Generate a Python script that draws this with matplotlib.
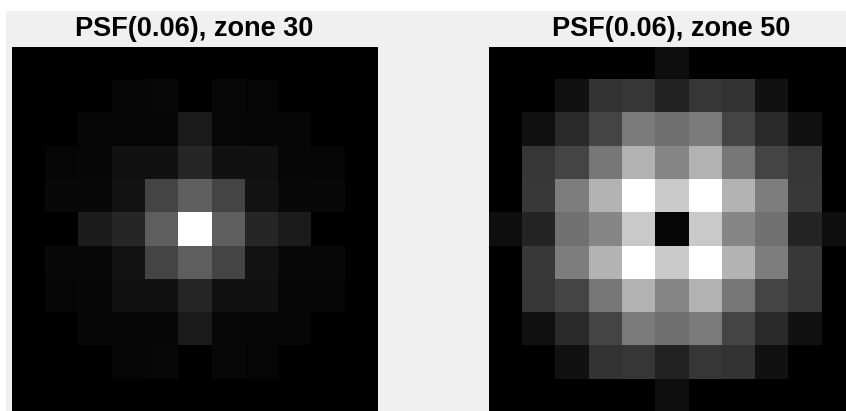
import numpy as np
import matplotlib
matplotlib.use("Agg")
import matplotlib.pyplot as plt
from matplotlib.patches import Rectangle

plt.rcParams["font.family"] = ["Liberation Sans", "DejaVu Sans"]

# gray levels (0-255) of the two 11x11 PSF patches, upper half incl. centre row
zone30_top = [
    [0, 0, 0, 0, 0, 0, 0, 0, 0, 0, 0],
    [0, 0, 0, 5, 7, 0, 7, 5, 0, 0, 0],
    [0, 0, 6, 6, 6, 26, 7, 6, 6, 0, 0],
    [0, 5, 6, 17, 17, 38, 17, 17, 6, 5, 0],
    [0, 8, 8, 18, 68, 94, 68, 18, 8, 8, 0],
    [0, 0, 27, 38, 94, 255, 94, 38, 27, 0, 0],
]
zone50_top = [
    [0, 0, 0, 0, 0, 15, 0, 0, 0, 0, 0],
    [0, 0, 17, 51, 54, 34, 54, 51, 17, 0, 0],
    [0, 17, 42, 68, 123, 110, 123, 68, 42, 17, 0],
    [0, 54, 68, 119, 178, 133, 178, 119, 68, 54, 0],
    [0, 56, 125, 179, 255, 202, 255, 179, 125, 56, 0],
    [15, 36, 112, 134, 201, 5, 201, 134, 112, 36, 15],
]
titles = ["PSF(0.06), zone 30", "PSF(0.06), zone 50"]


def full_psf(top):
    top = np.array(top, dtype=float)
    return np.vstack([top, top[-2::-1]])


W, H = 846, 411
fig = plt.figure(figsize=(W / 100, H / 100), dpi=100, facecolor="white")
fig.patches.append(Rectangle((6 / W, 0), 1, (H - 11) / H, transform=fig.transFigure,
                             facecolor="#f0f0f0", edgecolor="none", zorder=-10))

side = 365
for i, (psf, title) in enumerate(zip([zone30_top, zone50_top], titles)):
    left = [12, 489][i]
    ax = fig.add_axes([left / W, (H - 47 - side) / H, side / W, side / H])
    ax.imshow(full_psf(psf), cmap="gray", vmin=0, vmax=255,
              interpolation="nearest", aspect="auto")
    ax.set_title(title, fontsize=19.5, fontweight="bold", pad=7.9)
    ax.axis("off")

fig.savefig("out.png", dpi=100)
